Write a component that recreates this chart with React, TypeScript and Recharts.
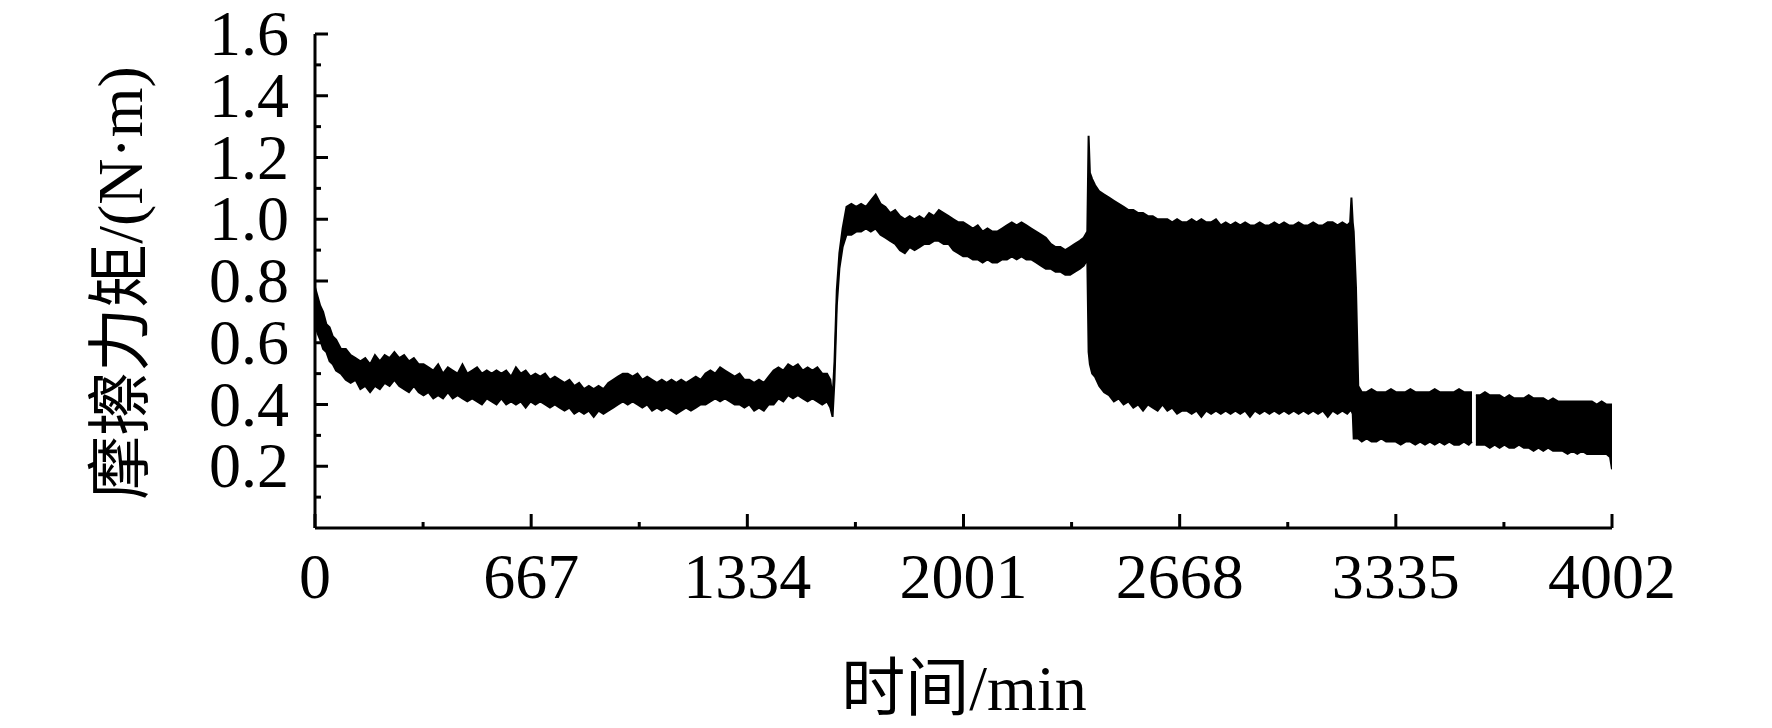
import { AreaChart, Area, XAxis, YAxis, Label } from "recharts";

// time (min) and the lower / upper edge of the torque trace (N·m)
const timeMin = [
  0, 8, 16, 25, 35, 45, 55, 65, 80, 95, 110, 125, 140, 155, 170, 185, 200, 215, 230, 245,
  260, 275, 290, 305, 320, 335, 350, 365, 380, 395, 410, 425, 440, 455, 470, 485, 500, 515, 530, 545,
  560, 575, 590, 605, 620, 635, 650, 665, 680, 695, 710, 725, 740, 755, 770, 785, 800, 815, 830, 845,
  860, 875, 890, 905, 920, 935, 950, 965, 980, 995, 1010, 1025, 1040, 1055, 1070, 1085, 1100, 1115, 1130, 1145,
  1160, 1175, 1190, 1205, 1220, 1235, 1250, 1265, 1280, 1295, 1310, 1325, 1340, 1355, 1370, 1385, 1400, 1415, 1430, 1445,
  1460, 1475, 1490, 1505, 1520, 1535, 1550, 1565, 1580, 1590, 1597, 1603, 1610, 1618, 1628, 1640,
  // second stage
  1655, 1670, 1685, 1700, 1715, 1730, 1745, 1760, 1775, 1790, 1805, 1820, 1835, 1850, 1865, 1880, 1895, 1910, 1925, 1940,
  1955, 1970, 1985, 2000, 2015, 2030, 2045, 2060, 2075, 2090, 2105, 2120, 2135, 2150, 2165, 2180, 2195, 2210, 2225, 2240,
  2255, 2270, 2285, 2300, 2315, 2330, 2345, 2360, 2372, 2383,
  // oscillating stage
  2387, 2391, 2398, 2407, 2420, 2435, 2450, 2465, 2480, 2495, 2510, 2525, 2540, 2555, 2570, 2585, 2600, 2615, 2630, 2645,
  2660, 2675, 2690, 2705, 2720, 2735, 2750, 2765, 2780, 2795, 2810, 2825, 2840, 2855, 2870, 2885, 2900, 2915, 2930, 2945,
  2960, 2975, 2990, 3005, 3020, 3035, 3050, 3065, 3080, 3095, 3110, 3125, 3140, 3155, 3170, 3185, 3194, 3198, 3202, 3205,
  3212, 3219,
  // last stage
  3230, 3245, 3260, 3275, 3290, 3305, 3320, 3335, 3350, 3365, 3380, 3395, 3410, 3425, 3440, 3455, 3470, 3485, 3500, 3515,
  3530, 3545, 3560, 3570, 3576, 3582, 3595, 3610, 3625, 3640, 3655, 3670, 3685, 3700, 3715, 3730, 3745, 3760, 3775, 3790,
  3805, 3820, 3835, 3850, 3865, 3880, 3895, 3910, 3925, 3940, 3955, 3970, 3985, 3996, 4002,
];

const lowTorque = [
  0.66, 0.63, 0.61, 0.58, 0.57, 0.54, 0.53, 0.51, 0.5, 0.48, 0.47, 0.48, 0.45, 0.46, 0.44, 0.46, 0.45, 0.47, 0.46, 0.48,
  0.46, 0.45, 0.44, 0.46, 0.44, 0.43, 0.44, 0.42, 0.43, 0.42, 0.44, 0.42, 0.43, 0.42, 0.41, 0.42, 0.41, 0.4, 0.42, 0.41,
  0.4, 0.42, 0.4, 0.41, 0.4, 0.41, 0.39, 0.41, 0.4, 0.41, 0.4, 0.39, 0.4, 0.39, 0.38, 0.39, 0.37, 0.38, 0.37, 0.38,
  0.36, 0.38, 0.37, 0.38, 0.39, 0.4, 0.41, 0.4, 0.41, 0.4, 0.39, 0.4, 0.38, 0.39, 0.38, 0.39, 0.38, 0.37, 0.38, 0.39,
  0.38, 0.39, 0.4, 0.4, 0.41, 0.42, 0.41, 0.42, 0.41, 0.4, 0.4, 0.39, 0.4, 0.38, 0.39, 0.38, 0.4, 0.4, 0.42, 0.41,
  0.43, 0.42, 0.43, 0.42, 0.41, 0.42, 0.41, 0.4, 0.41, 0.39, 0.36, 0.48, 0.72, 0.84, 0.91, 0.95,
  0.95, 0.96, 0.96, 0.97, 0.96, 0.97, 0.95, 0.94, 0.93, 0.92, 0.9, 0.89, 0.91, 0.9, 0.91, 0.92, 0.92, 0.93, 0.93, 0.92,
  0.92, 0.9, 0.89, 0.88, 0.88, 0.87, 0.87, 0.86, 0.87, 0.86, 0.86, 0.87, 0.87, 0.88, 0.87, 0.88, 0.87, 0.87, 0.86, 0.85,
  0.84, 0.84, 0.83, 0.83, 0.82, 0.82, 0.83, 0.84, 0.85, 0.87,
  0.57, 0.53, 0.5, 0.49, 0.46, 0.44, 0.43, 0.41, 0.42, 0.4, 0.41, 0.39, 0.4, 0.38, 0.4, 0.39, 0.38, 0.4, 0.38, 0.39,
  0.37, 0.38, 0.38, 0.37, 0.38, 0.36, 0.38, 0.37, 0.38, 0.37, 0.38, 0.37, 0.38, 0.37, 0.38, 0.36, 0.38, 0.37, 0.38, 0.37,
  0.38, 0.37, 0.38, 0.37, 0.38, 0.37, 0.38, 0.37, 0.38, 0.37, 0.38, 0.36, 0.38, 0.37, 0.38, 0.37, 0.38, 0.38, 0.37, 0.29,
  0.29, 0.29,
  0.28, 0.29, 0.28, 0.28, 0.29, 0.28, 0.28, 0.28, 0.27, 0.28, 0.28, 0.27, 0.28, 0.27, 0.28, 0.27, 0.28, 0.27, 0.28, 0.27,
  0.27, 0.28, 0.27, 0.28, null, 0.27, 0.27, 0.27, 0.26, 0.27, 0.26, 0.27, 0.26, 0.26, 0.27, 0.26, 0.26, 0.25, 0.26, 0.25,
  0.26, 0.25, 0.25, 0.25, 0.24, 0.25, 0.24, 0.25, 0.24, 0.24, 0.24, 0.24, 0.24, 0.23, 0.19,
];

const highTorque = [
  0.78, 0.75, 0.72, 0.7, 0.66, 0.65, 0.62, 0.61, 0.58, 0.58, 0.56, 0.55, 0.54, 0.55, 0.53, 0.56, 0.54, 0.56, 0.55, 0.57,
  0.55, 0.56, 0.54, 0.55, 0.53, 0.53, 0.52, 0.51, 0.53, 0.5, 0.52, 0.51, 0.5, 0.53, 0.5, 0.51, 0.52, 0.5, 0.51, 0.5,
  0.51, 0.5, 0.51, 0.49, 0.52, 0.5, 0.51, 0.49, 0.5, 0.49, 0.5, 0.48, 0.49, 0.48, 0.47, 0.48, 0.46, 0.47, 0.45, 0.46,
  0.45, 0.46, 0.45, 0.47, 0.48, 0.49, 0.5, 0.5, 0.49, 0.5, 0.48, 0.49, 0.48, 0.47, 0.48, 0.47, 0.48, 0.47, 0.48, 0.47,
  0.48, 0.49, 0.48, 0.5, 0.51, 0.5, 0.52, 0.51, 0.5, 0.49, 0.5, 0.48, 0.48, 0.47, 0.48, 0.47, 0.49, 0.51, 0.52, 0.51,
  0.53, 0.52, 0.53, 0.51, 0.52, 0.51, 0.52, 0.5, 0.5, 0.48, 0.42, 0.54, 0.77, 0.89, 0.97, 1.04,
  1.05, 1.04, 1.05, 1.04, 1.06, 1.08, 1.05, 1.04, 1.02, 1.03, 1.01, 1.0, 1.01, 1.0, 1.01, 1.0, 1.02, 1.01, 1.03, 1.02,
  1.01, 1.0, 0.99, 0.99, 0.98, 0.97, 0.98, 0.96, 0.97, 0.96, 0.96, 0.97, 0.98, 0.99, 0.98, 0.99, 0.98, 0.97, 0.96, 0.95,
  0.94, 0.92, 0.91, 0.91, 0.9, 0.91, 0.92, 0.93, 0.94, 0.96,
  1.27, 1.15, 1.13, 1.11, 1.09, 1.08, 1.07, 1.06, 1.05, 1.04, 1.03, 1.03, 1.02, 1.02, 1.01, 1.01, 1.0, 1.0, 1.0, 0.99,
  1.0, 0.99, 0.99, 1.0, 0.99, 1.0, 0.99, 0.99, 1.0, 0.98, 0.99, 0.98, 0.99, 0.98, 0.99, 0.98, 0.98, 0.99, 0.98, 0.98,
  0.99, 0.98, 0.99, 0.98, 0.98, 0.99, 0.98, 0.98, 0.99, 0.98, 0.98, 0.99, 0.99, 0.98, 0.99, 0.98, 0.99, 1.07, 0.99, 0.96,
  0.78, 0.46,
  0.44, 0.44, 0.45, 0.44, 0.44, 0.44, 0.45, 0.44, 0.44, 0.44, 0.45, 0.44, 0.44, 0.44, 0.44, 0.45, 0.44, 0.44, 0.44, 0.44,
  0.45, 0.44, 0.44, 0.44, null, 0.43, 0.43, 0.44, 0.43, 0.43, 0.43, 0.42, 0.43, 0.42, 0.42, 0.42, 0.43, 0.42, 0.42, 0.42,
  0.41, 0.42, 0.41, 0.41, 0.41, 0.41, 0.41, 0.41, 0.41, 0.41, 0.4, 0.41, 0.4, 0.4, 0.4,
];

const xMajorTicks = [0, 667, 1334, 2001, 2668, 3335, 4002];
const xAllTicks = [0, 333.5, 667, 1000.5, 1334, 1667.5, 2001, 2334.5, 2668, 3001.5, 3335, 3668.5, 4002];
const yMajorTicks = [0.2, 0.4, 0.6, 0.8, 1.0, 1.2, 1.4, 1.6];
const yAllTicks = [0.1, 0.2, 0.3, 0.4, 0.5, 0.6, 0.7, 0.8, 0.9, 1.0, 1.1, 1.2, 1.3, 1.4, 1.5, 1.6];

const xTitle = "时间/min";
const yTitle = "摩擦力矩/(N·m)";

const W = 1772;
const H = 728;
const PLOT_LEFT = 315;
const PLOT_TOP = 34;
const PLOT_BOTTOM = 528;
const LATIN = "'Liberation Serif', 'Times New Roman', serif";
const MIXED = "'Liberation Serif', 'Noto Sans CJK SC', serif";

const data = timeMin.map((t, i) => ({
  t,
  band: lowTorque[i] == null ? null : [lowTorque[i], highTorque[i]],
}));

const XTick = (props: any) => {
  const { x, payload } = props;
  const major = xMajorTicks.includes(payload.value);
  return (
    <g>
      <line x1={x} x2={x} y1={PLOT_BOTTOM} y2={PLOT_BOTTOM - (major ? 14 : 6)} stroke="#000" strokeWidth={3} />
      {major && (
        <text x={x} y={598} textAnchor="middle" fontFamily={LATIN} fontSize={64} fill="#000">
          {payload.value}
        </text>
      )}
    </g>
  );
};

const YTick = (props: any) => {
  const { y, payload } = props;
  const major = yMajorTicks.some((v) => Math.abs(v - payload.value) < 1e-6);
  return (
    <g>
      <line x1={PLOT_LEFT} x2={PLOT_LEFT + (major ? 13 : 6)} y1={y} y2={y} stroke="#000" strokeWidth={3} />
      {major && (
        <text x={289} y={y + 21} textAnchor="end" fontFamily={LATIN} fontSize={64} fill="#000">
          {payload.value.toFixed(1)}
        </text>
      )}
    </g>
  );
};

const XTitle = () => (
  <text x={964} y={710} textAnchor="middle" fontFamily={MIXED} fontSize={64} fill="#000">
    {xTitle}
  </text>
);

const YTitle = () => (
  <text x={142} y={283} transform="rotate(-90 142 283)" textAnchor="middle" fontFamily={MIXED} fontSize={64} fill="#000">
    {yTitle}
  </text>
);

export default function App() {
  return (
    <div style={{ position: "absolute", left: 0, top: 0, width: W, height: H, background: "#fff" }}>
      <AreaChart width={W} height={H} data={data} margin={{ top: PLOT_TOP, right: W - 1612, left: 0, bottom: 0 }}>
        <XAxis
          dataKey="t"
          type="number"
          domain={[0, 4002]}
          ticks={xAllTicks}
          interval={0}
          tickLine={false}
          axisLine={{ stroke: "#000", strokeWidth: 3 }}
          tick={<XTick />}
          height={H - PLOT_BOTTOM}
          allowDataOverflow
        >
          <Label content={<XTitle />} />
        </XAxis>
        <YAxis
          type="number"
          domain={[0, 1.6]}
          ticks={yAllTicks}
          interval={0}
          tickLine={false}
          axisLine={{ stroke: "#000", strokeWidth: 3 }}
          tick={<YTick />}
          width={PLOT_LEFT}
          allowDataOverflow
        >
          <Label content={<YTitle />} />
        </YAxis>
        <Area
          type="linear"
          dataKey="band"
          stroke="#000"
          strokeWidth={2}
          fill="#000"
          fillOpacity={1}
          dot={false}
          activeDot={false}
          isAnimationActive={false}
        />
      </AreaChart>
    </div>
  );
}
